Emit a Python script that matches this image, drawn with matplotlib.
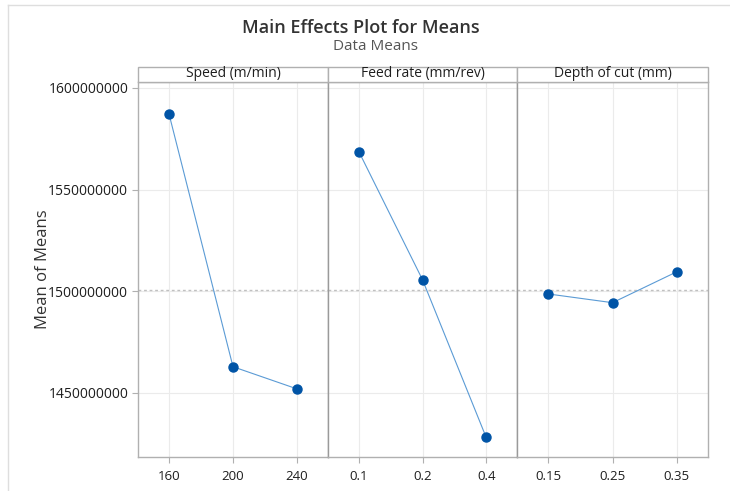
import matplotlib
matplotlib.use("Agg")
import matplotlib.pyplot as plt
from matplotlib.patches import Rectangle
from matplotlib.lines import Line2D

plt.rcParams['font.family'] = ['Open Sans', 'DejaVu Sans']

factors = ["Speed (m/min)", "Feed rate (mm/rev)", "Depth of cut (mm)"]
speed_levels = ["160", "200", "240"]
speed_means = [1587.2e6, 1462.9e6, 1452.0e6]
feed_levels = ["0.1", "0.2", "0.4"]
feed_means = [1568.7e6, 1505.7e6, 1428.2e6]
depth_levels = ["0.15", "0.25", "0.35"]
depth_means = [1498.7e6, 1494.4e6, 1509.6e6]
grand_mean = 1500.8e6
yticks = [1450000000, 1500000000, 1550000000, 1600000000]

levels = [speed_levels, feed_levels, depth_levels]
means = [speed_means, feed_means, depth_means]

W, H = 730, 491
fig = plt.figure(figsize=(W / 100, H / 100), dpi=100)

# outer light frame
fig.add_artist(Line2D([8 / W, 8 / W], [0, 1 - 5 / H], transform=fig.transFigure, color="#dedede", lw=1))
fig.add_artist(Line2D([8 / W, 1], [1 - 5 / H, 1 - 5 / H], transform=fig.transFigure, color="#dedede", lw=1))

edges = [138, 328, 517, 708]
bottom = 1 - 457 / H
top = 1 - 82 / H
strip_top = 1 - 67 / H
ymin, ymax = 1418.5e6, 1602.95e6

line_col = "#5b9bd5"
mark_col = "#0054a6"
frame_col = "#b0b0b0"
divider_col = "#9a9a9a"
text_col = "#1e1e1e"

for i in range(3):
    x0 = edges[i] / W
    w = (edges[i + 1] - edges[i]) / W
    ax = fig.add_axes([x0, bottom, w, top - bottom])
    xs = list(range(1, len(levels[i]) + 1))
    ax.plot(xs, means[i], color=line_col, lw=0.8, zorder=3)
    ax.plot(xs, means[i], 'o', color=mark_col, ms=6.5, zorder=4)
    ax.axhline(grand_mean, color="#c0c0c0", lw=1.0, ls=(0, (2, 2)), zorder=2)
    ax.set_xlim(0.515, 3.485)
    ax.set_ylim(ymin, ymax)
    ax.set_xticks(xs)
    ax.set_xticklabels(levels[i], fontsize=9.5, color=text_col)
    ax.set_yticks(yticks)
    ax.grid(True, color="#ebebeb", lw=0.8, zorder=0)
    ax.set_axisbelow(True)
    ax.tick_params(axis='x', length=4, color=frame_col, pad=5)
    if i == 0:
        ax.set_yticklabels([str(v) for v in yticks], fontsize=10, color=text_col)
        ax.tick_params(axis='y', length=4, color=frame_col, pad=3)
        ax.set_ylabel("Mean of Means", fontsize=12, color="#333333", labelpad=-2)
    else:
        ax.tick_params(axis='y', length=0, labelleft=False)
    for side in ["top", "bottom", "left", "right"]:
        ax.spines[side].set_color(frame_col)
        ax.spines[side].set_linewidth(1.0)
    if i > 0:
        ax.spines["left"].set_color(divider_col)
    if i < 2:
        ax.spines["right"].set_color(divider_col)
    # strip
    fig.add_artist(Rectangle((x0, top), w, strip_top - top, transform=fig.transFigure,
                             facecolor="white", edgecolor=frame_col, lw=1.0))
    fig.text(x0 + w / 2, (top + strip_top) / 2 + 0.002, factors[i], ha="center", va="center",
             fontsize=10, color=text_col)

fig.text(361 / W, 1 - 28 / H, "Main Effects Plot for Means", ha="center", va="center",
         fontsize=13, fontweight="semibold", color="#333333")
fig.text(375 / W, 1 - 46 / H, "Data Means", ha="center", va="center",
         fontsize=11, color="#555555")

fig.savefig("out.png", dpi=100, facecolor="white")
